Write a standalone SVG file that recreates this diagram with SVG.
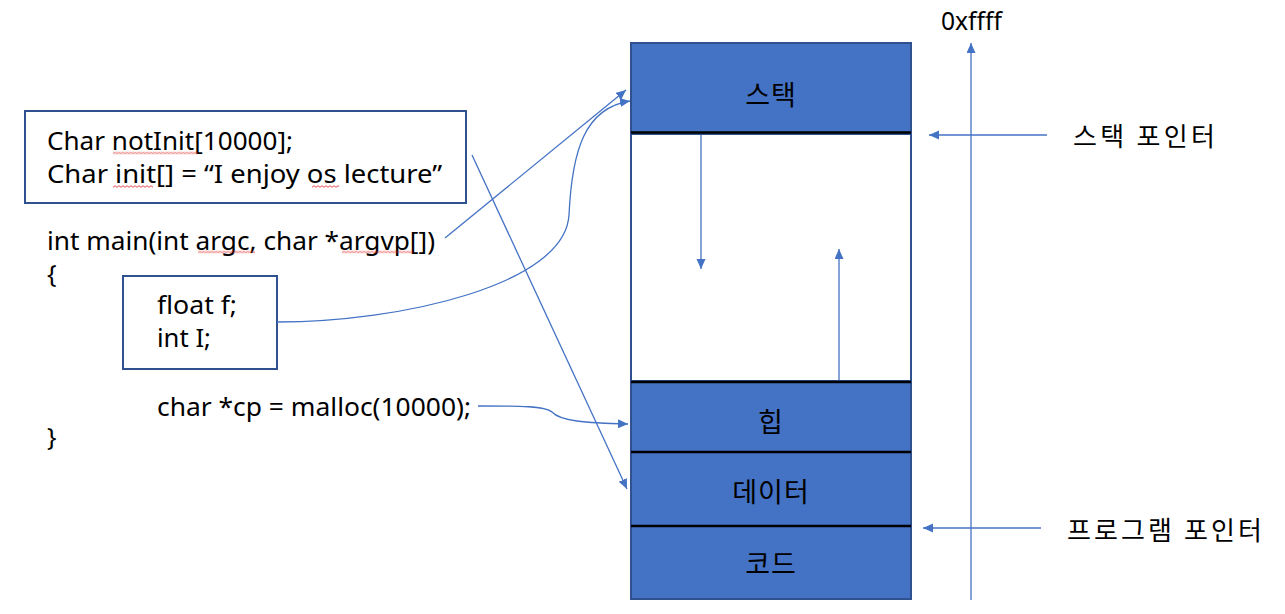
<svg xmlns="http://www.w3.org/2000/svg" width="1285" height="614" viewBox="0 0 1285 614">
<style>
.blk{fill:#4472C4;stroke:#2F528F;stroke-width:2}
.wht{fill:#ffffff;stroke:#2F528F;stroke-width:2}
.box{fill:none;stroke:#2F528F;stroke-width:2}
.sep{stroke:#000;stroke-width:2.5}
.con{fill:none;stroke:#4472C4;stroke-width:1.3}
.kr{font-family:"Noto Sans CJK KR","Noto Sans",sans-serif;font-size:26px;fill:#000}
.bl{font-size:27px;letter-spacing:1px}
.code{font-family:"Noto Sans","Liberation Sans",sans-serif;font-size:25px;fill:#000}
</style>
<defs>
<marker id="ah" markerUnits="userSpaceOnUse" markerWidth="11" markerHeight="10" refX="10" refY="4.5" orient="auto">
<path d="M0,0 L10,4.5 L0,9 z" fill="#4472C4"/>
</marker>
<pattern id="squig" patternUnits="userSpaceOnUse" width="4" height="3">
<polyline points="0,2.3 2,0.7 4,2.3" fill="none" stroke="#E02020" stroke-width="0.8"/>
</pattern>
</defs>
<rect width="1285" height="614" fill="#ffffff"/>

<g id="memory">
<g id="stack"><rect class="blk" x="631" y="43" width="280" height="90"/><text class="kr bl" x="771" y="93" text-anchor="middle" dominant-baseline="central">스택</text></g>
<g id="free"><rect class="wht" x="631" y="134" width="280" height="247"/></g>
<g id="heap"><rect class="blk" x="631" y="382" width="280" height="70"/><text class="kr bl" x="771" y="420" text-anchor="middle" dominant-baseline="central">힙</text></g>
<g id="data"><rect class="blk" x="631" y="452" width="280" height="74"/><text class="kr bl" x="771" y="490" text-anchor="middle" dominant-baseline="central">데이터</text></g>
<g id="code"><rect class="blk" x="631" y="526" width="280" height="73"/><text class="kr bl" x="771" y="562" text-anchor="middle" dominant-baseline="central">코드</text></g>
<line class="sep" x1="631" y1="132.5" x2="911" y2="132.5"/>
<line class="sep" x1="631" y1="382" x2="911" y2="382"/>
<line class="sep" x1="631" y1="452" x2="911" y2="452"/>
<line class="sep" x1="631" y1="526" x2="911" y2="526"/>
</g>

<g id="globals">
<rect class="box" x="25" y="111" width="441" height="92"/>
<text class="code" x="47" y="150" textLength="246" lengthAdjust="spacingAndGlyphs">Char notInit[10000];</text>
<text class="code" x="47" y="183" textLength="395" lengthAdjust="spacingAndGlyphs">Char init[] = “I enjoy os lecture”</text>
</g>

<g id="main">
<text class="code" x="47" y="250" textLength="388" lengthAdjust="spacingAndGlyphs">int main(int argc, char *argvp[])</text>
<text class="code" x="47" y="283">{</text>
<text class="code" x="157" y="416" textLength="314" lengthAdjust="spacingAndGlyphs">char *cp = malloc(10000);</text>
<text class="code" x="47" y="446">}</text>
</g>

<g id="locals">
<rect class="box" x="123" y="276" width="154" height="93"/>
<text class="code" x="157" y="314" textLength="80" lengthAdjust="spacingAndGlyphs">float f;</text>
<text class="code" x="157" y="347" textLength="54" lengthAdjust="spacingAndGlyphs">int I;</text>
</g>

<g id="spellmarks">
<g transform="translate(113,151.5)"><rect width="85" height="3" fill="url(#squig)"/></g>
<g transform="translate(113,185)"><rect width="40" height="3" fill="url(#squig)"/></g>
<g transform="translate(312,185)"><rect width="27" height="3" fill="url(#squig)"/></g>
<g transform="translate(198,250.5)"><rect width="57" height="3" fill="url(#squig)"/></g>
<g transform="translate(342,250.5)"><rect width="71" height="3" fill="url(#squig)"/></g>
</g>

<g id="labels">
<text class="code" x="941" y="30" textLength="61" lengthAdjust="spacingAndGlyphs">0xffff</text>
<text class="kr" x="1073" y="134" dominant-baseline="central" textLength="142" lengthAdjust="spacing">스택 포인터</text>
<text class="kr" x="1067" y="528" dominant-baseline="central" textLength="195" lengthAdjust="spacing">프로그램 포인터</text>
</g>

<g id="connectors">
<line class="con" x1="445" y1="238" x2="626" y2="90" marker-end="url(#ah)"/>
<path class="con" d="M277,322 C400,322 565,285 569,215 C572,150 585,108 630,101" marker-end="url(#ah)"/>
<line class="con" x1="472" y1="155" x2="627" y2="489" marker-end="url(#ah)"/>
<path class="con" d="M478,406 C520,406 545,406 552,412 C560,421 585,423 628,424" marker-end="url(#ah)"/>
<line class="con" x1="701" y1="135" x2="701" y2="269" marker-end="url(#ah)"/>
<line class="con" x1="839" y1="380" x2="839" y2="249" marker-end="url(#ah)"/>
<line class="con" x1="971" y1="600" x2="971" y2="43" marker-end="url(#ah)"/>
<line class="con" x1="1047" y1="135" x2="929" y2="135" marker-end="url(#ah)"/>
<line class="con" x1="1041" y1="528" x2="923" y2="528" marker-end="url(#ah)"/>
</g>
</svg>
